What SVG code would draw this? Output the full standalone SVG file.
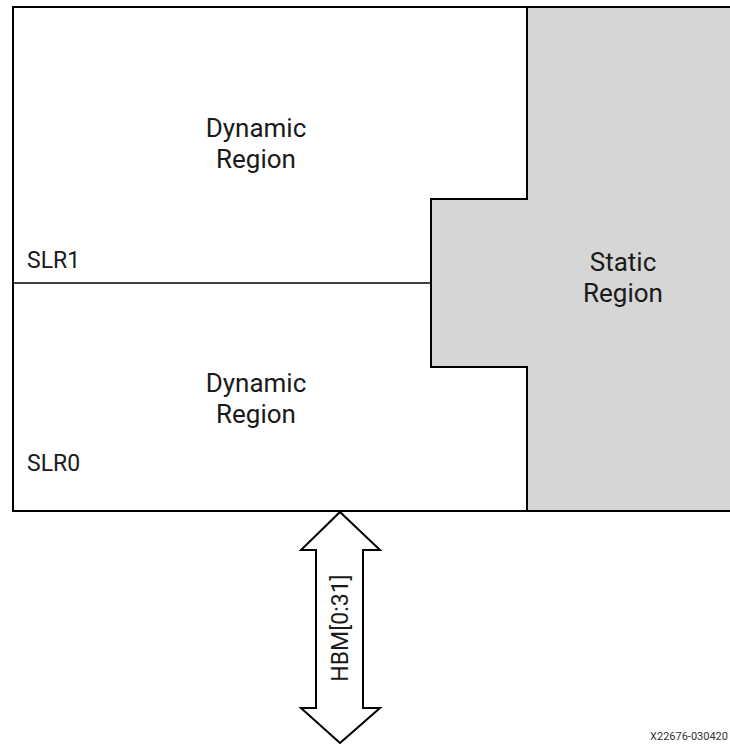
<svg xmlns="http://www.w3.org/2000/svg" width="730" height="744" viewBox="0 0 730 744">
<style>
.lbl{font-family:Roboto,"Liberation Sans",sans-serif;font-size:23px;fill:#1a1a1a}
.big{font-size:26px}
.mid{text-anchor:middle}
.edge{stroke:#000;stroke-width:2}
</style>
<rect width="730" height="744" fill="#fff"/>
<g id="dynamic-region">
<polygon points="13,7 527,7 527,199 431,199 431,367 527,367 527,511 13,511" style="fill:#fff" class="edge"/>
<line x1="13" y1="283" x2="431" y2="283" stroke="#000" stroke-width="1.5"/>
<text class="lbl big mid" x="256" y="137">Dynamic</text>
<text class="lbl big mid" x="256" y="168">Region</text>
<text class="lbl big mid" x="256" y="392">Dynamic</text>
<text class="lbl big mid" x="256" y="423">Region</text>
<text class="lbl" x="27" y="268">SLR1</text>
<text class="lbl" x="27" y="471">SLR0</text>
</g>
<g id="static-region">
<polygon points="527,7 732,7 732,511 527,511 527,367 431,367 431,199 527,199" style="fill:#d6d6d6" class="edge"/>
<text class="lbl big mid" x="623" y="271">Static</text>
<text class="lbl big mid" x="623" y="302">Region</text>
</g>
<g id="connectors">
<polygon points="340,512 380,550 363,550 363,708 380,708 340,743 301,708 316,708 316,550 301,550" style="fill:#fff" class="edge"/>
<text class="lbl mid" transform="translate(348,628) rotate(-90)">HBM[0:31]</text>
</g>
<text x="728" y="740" text-anchor="end" font-family="Roboto,'Liberation Sans',sans-serif" font-size="11" fill="#333">X22676-030420</text>
</svg>
